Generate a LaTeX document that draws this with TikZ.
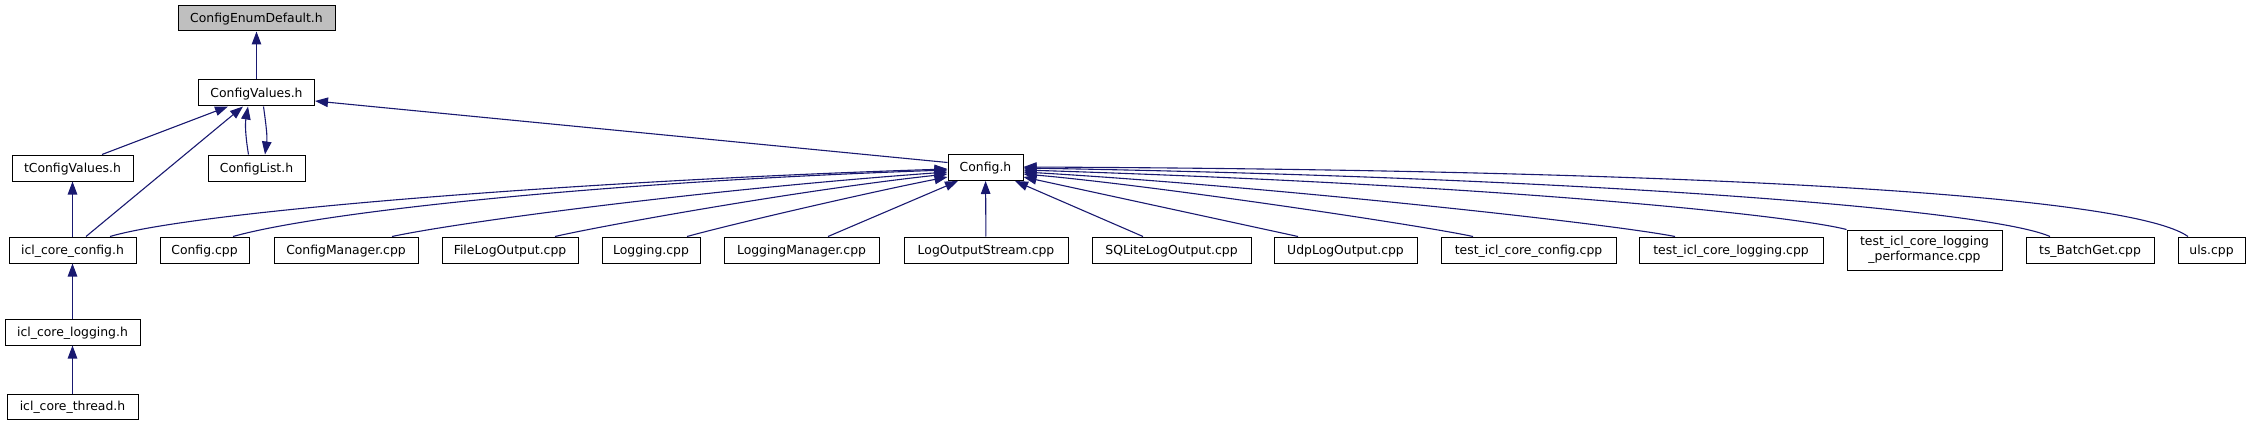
\documentclass[tikz,border=0pt]{standalone}
\usepackage{fontspec}
\setmainfont{DejaVu Sans}
\usetikzlibrary{arrows.meta}
\tikzset{>={Triangle[length=13pt, width=9.5pt]}}
\definecolor{mynavy}{RGB}{25, 25, 112}
\definecolor{mygrey}{RGB}{191, 191, 191}

\begin{document}
\begin{tikzpicture}[x=1pt, y=-1pt,
  file/.style={draw, line width=1pt, minimum height=26pt, inner sep=0pt,
    font=\fontsize{12.4}{15}\selectfont, text height=11pt, text depth=2.4pt},
  dep/.style={<-, draw=mynavy, line width=1.1pt}]
\useasboundingbox (0,0) rectangle (2250,425);
% headers
\node[file, fill=mygrey, minimum width=157pt, minimum height=25pt] (enumdef) at (256.5,18.5) {ConfigEnumDefault.h};
\node[file, minimum width=116pt] (values) at (256.5,93) {ConfigValues.h};
\node[file, minimum width=121pt] (tvalues) at (72.5,168) {tConfigValues.h};
\node[file, minimum width=97pt] (clist) at (256.5,168) {ConfigList.h};
\node[file, minimum width=75pt] (configh) at (985.5,167.5) {Config.h};
\node[file, minimum width=127pt] (iclconfig) at (72.5,250) {icl\_core\_config.h};
\node[file, minimum width=135pt] (icllogging) at (72.5,332) {icl\_core\_logging.h};
\node[file, minimum width=131pt, minimum height=25pt] (iclthread) at (72.5,406.5) {icl\_core\_thread.h};
% sources
\node[file, minimum width=89pt] (configcpp) at (204.5,250) {Config.cpp};
\node[file, minimum width=144pt] (manager) at (346,250) {ConfigManager.cpp};
\node[file, minimum width=136pt] (filelog) at (510,250) {FileLogOutput.cpp};
\node[file, minimum width=98pt] (logging) at (651,250) {Logging.cpp};
\node[file, minimum width=155pt] (logmanager) at (801.5,250) {LoggingManager.cpp};
\node[file, minimum width=164pt] (logstream) at (986,250) {LogOutputStream.cpp};
\node[file, minimum width=159pt] (sqlite) at (1171.5,250) {SQLiteLogOutput.cpp};
\node[file, minimum width=143pt] (udp) at (1345.5,250) {UdpLogOutput.cpp};
\node[file, minimum width=175pt] (testconfig) at (1528.5,250) {test\_icl\_core\_config.cpp};
\node[file, minimum width=184pt] (testlogging) at (1731,250) {test\_icl\_core\_logging.cpp};
\node[file, minimum width=155pt, minimum height=40pt, align=center, text height=, text depth=]
  (testperf) at (1924.5,250) {test\_icl\_core\_logging\\\_performance.cpp};
\node[file, minimum width=128pt] (batchget) at (2090,250) {ts\_BatchGet.cpp};
\node[file, minimum width=67pt] (uls) at (2211.5,250) {uls.cpp};
% includes
\draw[dep] (enumdef) -- (values);
\draw[dep] ([xshift=-28.5pt]values.south) -- ([xshift=29.5pt]tvalues.north);
\draw[dep] ([xshift=-13.5pt]values.south) -- ([xshift=13.5pt]iclconfig.north);
\draw[dep] ([xshift=-8.5pt]values.south) .. controls +(-3,18) and +(-3,-18) .. ([xshift=-8pt]clist.north);
\draw[dep] ([xshift=8.5pt]clist.north) .. controls +(2.5,-18) and +(2.5,18) .. ([xshift=7pt]values.south);
\draw[dep] ([yshift=-8pt]values.east) -- ([yshift=5pt]configh.west);
\draw[dep] (tvalues) -- (iclconfig);
\draw[dep] (iclconfig) -- (icllogging);
\draw[dep] (icllogging) -- (iclthread);
% into Config.h, left side
\draw[dep] ([yshift=-1.5pt]configh.west) .. controls (600,180) and (200,210) .. ([xshift=37.5pt]iclconfig.north);
\draw[dep] ([yshift=-2.5pt]configh.west) .. controls (600,182) and (320,212) .. ([xshift=28.5pt]configcpp.north);
\draw[dep] ([yshift=-4.5pt]configh.west) .. controls (700,190) and (460,222) .. ([xshift=46pt]manager.north);
\draw[dep] ([yshift=-6.5pt]configh.west) .. controls (800,190) and (600,226) .. ([xshift=45pt]filelog.north);
\draw[dep] ([yshift=-9.5pt]configh.west) .. controls (880,190) and (740,222) .. ([xshift=36pt]logging.north);
\draw[dep] ([xshift=-27.5pt]configh.south) -- ([xshift=26.5pt]logmanager.north);
\draw[dep] (configh) -- (logstream);
% into Config.h, right side
\draw[dep] ([xshift=29.5pt]configh.south) -- ([xshift=-28.5pt]sqlite.north);
\draw[dep] ([yshift=-9.5pt]configh.east) -- ([xshift=-47.5pt]udp.north);
\draw[dep] ([yshift=-6.5pt]configh.east) .. controls (1150,185) and (1420,225) .. ([xshift=-55.5pt]testconfig.north);
\draw[dep] ([yshift=-4.5pt]configh.east) .. controls (1250,185) and (1600,222) .. ([xshift=-56pt]testlogging.north);
\draw[dep] ([yshift=-2.5pt]configh.east) .. controls (1500,185) and (1790,215) .. (testperf.north west);
\draw[dep] ([yshift=-0.5pt]configh.east) .. controls (1600,178) and (1990,210) .. ([xshift=-40pt]batchget.north);
\draw[dep] ([yshift=0.5pt]configh.east) .. controls (1700,170) and (2130,195) .. ([xshift=-23.5pt]uls.north);
\end{tikzpicture}
\end{document}
